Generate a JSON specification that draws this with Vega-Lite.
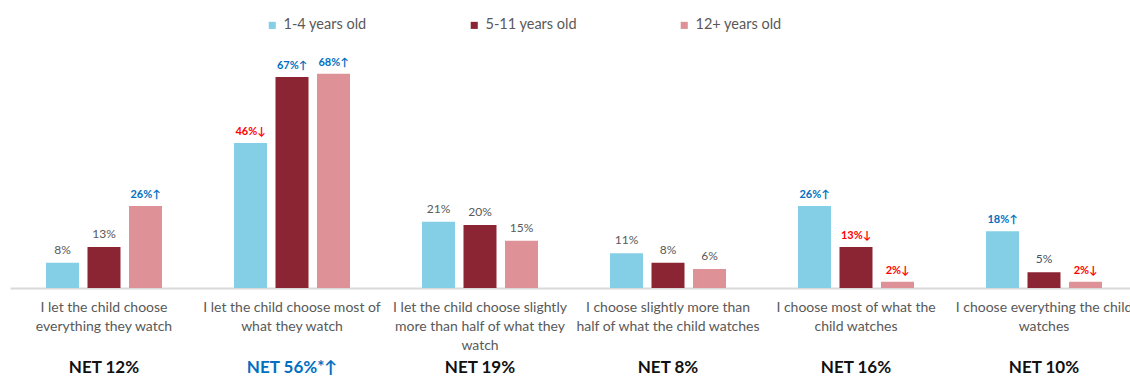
{
  "$schema": "https://vega.github.io/schema/vega-lite/v6.json",
  "width": 1120,
  "height": 252,
  "autosize": {"type": "none"},
  "padding": {"left": 10, "top": 36, "right": 0, "bottom": 89},
  "config": {"view": {"stroke": null}, "font": "Lato"},
  "data": {
    "values": [
      {"cat": "I let the child choose|everything they watch#NET 12%", "age": "1-4 years old", "value": 8, "label": "8%", "sig": "n"},
      {"cat": "I let the child choose|everything they watch#NET 12%", "age": "5-11 years old", "value": 13, "label": "13%", "sig": "n"},
      {"cat": "I let the child choose|everything they watch#NET 12%", "age": "12+ years old", "value": 26, "label": "26%↑", "sig": "up"},
      {"cat": "I let the child choose most of|what they watch#NET 56%*↑", "age": "1-4 years old", "value": 46, "label": "46%↓", "sig": "down"},
      {"cat": "I let the child choose most of|what they watch#NET 56%*↑", "age": "5-11 years old", "value": 67, "label": "67%↑", "sig": "up"},
      {"cat": "I let the child choose most of|what they watch#NET 56%*↑", "age": "12+ years old", "value": 68, "label": "68%↑", "sig": "up"},
      {"cat": "I let the child choose slightly|more than half of what they|watch#NET 19%", "age": "1-4 years old", "value": 21, "label": "21%", "sig": "n"},
      {"cat": "I let the child choose slightly|more than half of what they|watch#NET 19%", "age": "5-11 years old", "value": 20, "label": "20%", "sig": "n"},
      {"cat": "I let the child choose slightly|more than half of what they|watch#NET 19%", "age": "12+ years old", "value": 15, "label": "15%", "sig": "n"},
      {"cat": "I choose slightly more than|half of what the child watches#NET 8%", "age": "1-4 years old", "value": 11, "label": "11%", "sig": "n"},
      {"cat": "I choose slightly more than|half of what the child watches#NET 8%", "age": "5-11 years old", "value": 8, "label": "8%", "sig": "n"},
      {"cat": "I choose slightly more than|half of what the child watches#NET 8%", "age": "12+ years old", "value": 6, "label": "6%", "sig": "n"},
      {"cat": "I choose most of what the|child watches#NET 16%", "age": "1-4 years old", "value": 26, "label": "26%↑", "sig": "up"},
      {"cat": "I choose most of what the|child watches#NET 16%", "age": "5-11 years old", "value": 13, "label": "13%↓", "sig": "down"},
      {"cat": "I choose most of what the|child watches#NET 16%", "age": "12+ years old", "value": 2, "label": "2%↓", "sig": "down"},
      {"cat": "I choose everything the child|watches#NET 10%", "age": "1-4 years old", "value": 18, "label": "18%↑", "sig": "up"},
      {"cat": "I choose everything the child|watches#NET 10%", "age": "5-11 years old", "value": 5, "label": "5%", "sig": "s"},
      {"cat": "I choose everything the child|watches#NET 10%", "age": "12+ years old", "value": 2, "label": "2%↓", "sig": "down"}
    ]
  },
  "layer": [
    {
      "mark": {"type": "bar"},
      "encoding": {
        "x": {
          "field": "cat", "type": "nominal", "sort": null,
          "scale": {"range": [0, 1128], "paddingInner": 0.383, "paddingOuter": 0.1915},
          "axis": {
            "orient": "bottom",
            "title": null, "labelAngle": 0, "ticks": false,
            "domainColor": "#d9d9d9", "domainWidth": 2,
            "labelExpr": "split(split(datum.value, '#')[0], '|')",
            "labelFont": "Lato", "labelFontSize": 14, "labelColor": "#595959",
            "labelBaseline": "top", "labelPadding": 12, "labelLineHeight": 19,
            "labelLimit": 300
          }
        },
        "xOffset": {"field": "age", "type": "nominal", "sort": ["1-4 years old", "5-11 years old", "12+ years old"], "scale": {"paddingInner": 0.205, "paddingOuter": 0}},
        "y": {"field": "value", "type": "quantitative", "scale": {"domain": [0, 80]}, "axis": null},
        "color": {
          "field": "age", "type": "nominal",
          "scale": {"domain": ["1-4 years old", "5-11 years old", "12+ years old"], "range": ["#84cfe6", "#8b2433", "#de9297"]},
          "legend": {
            "title": null, "orient": "none", "direction": "horizontal",
            "legendX": 255, "legendY": -18, "columnPadding": 100,
            "symbolType": "square", "symbolSize": 50, "symbolStrokeWidth": 0,
            "labelFontSize": 14.5, "labelColor": "#595959", "labelFont": "Lato", "labelOffset": 4
          }
        }
      }
    },
    {
      "transform": [{"filter": "datum.sig == 'up' || datum.sig == 'down'"}],
      "mark": {"type": "text", "baseline": "bottom", "dy": -6, "fontSize": 11, "fontWeight": "bold", "font": "Lato"},
      "encoding": {
        "x": {
          "field": "cat", "type": "nominal", "sort": null,
          "axis": {
            "orient": "bottom",
            "title": null, "labelAngle": 0, "ticks": false, "domain": false,
            "labelExpr": "split(datum.value, '#')[1]",
            "labelFont": "Lato", "labelFontSize": 17, "labelFontWeight": "bold",
            "labelColor": {"condition": {"test": "indexof(datum.value, '*') >= 0", "value": "#0070c0"}, "value": "#111111"},
            "labelBaseline": "top", "labelPadding": 71, "labelLimit": 300
          }
        },
        "xOffset": {"field": "age", "type": "nominal", "sort": ["1-4 years old", "5-11 years old", "12+ years old"]},
        "y": {"field": "value", "type": "quantitative"},
        "text": {"field": "label"},
        "color": {"field": "sig", "type": "nominal", "scale": {"domain": ["up", "down", "n", "s"], "range": ["#0070c0", "#ff0000", "#595959", "#44546a"]}, "legend": null}
      }
    },
    {
      "transform": [{"filter": "datum.sig == 'n' || datum.sig == 's'"}],
      "mark": {"type": "text", "baseline": "bottom", "dy": -6, "fontSize": 12, "font": "Lato"},
      "encoding": {
        "x": {"field": "cat", "type": "nominal", "sort": null, "axis": null},
        "xOffset": {"field": "age", "type": "nominal", "sort": ["1-4 years old", "5-11 years old", "12+ years old"]},
        "y": {"field": "value", "type": "quantitative"},
        "text": {"field": "label"},
        "color": {"field": "sig", "type": "nominal", "scale": {"domain": ["up", "down", "n", "s"], "range": ["#0070c0", "#ff0000", "#595959", "#44546a"]}, "legend": null}
      }
    }
  ],
  "resolve": {"scale": {"color": "independent"}, "axis": {"x": "independent"}}
}
